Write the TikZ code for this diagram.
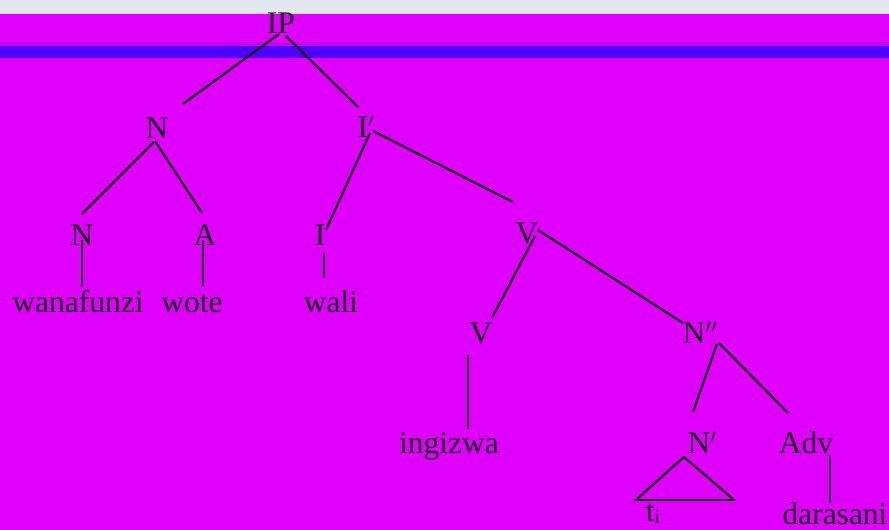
\documentclass[tikz,border=0pt]{standalone}
\usepackage{fontspec}
\setmainfont{Liberation Serif}
\definecolor{bgmag}{RGB}{222,0,250}
\definecolor{bgtop}{RGB}{226,230,238}
\definecolor{bgblue}{RGB}{78,0,255}
\definecolor{bgdark}{RGB}{200,0,235}
\definecolor{ink}{RGB}{25,20,30}
\begin{document}
\begin{tikzpicture}[x=1pt,y=-1pt,
  lab/.style={inner sep=0pt,anchor=base,text=ink,font=\fontsize{31.5}{34}\selectfont},
  branch/.style={draw=ink,line width=2.2pt}]
\useasboundingbox (0,0) rectangle (889,530);
\fill[bgmag] (0,0) rectangle (889,530);
\fill[bgtop] (0,0) rectangle (889,14);
\fill[bgdark] (0,42) rectangle (889,46);
\fill[bgblue] (0,46) rectangle (889,58);
% labels
\node[lab] (ip) at (281,33) {IP};
\node[lab] (n1) at (157,138) {N};
\node[lab] (ib) at (366,137) {I$'$};
\node[lab] (n2) at (82,245) {N};
\node[lab] (a) at (205,245) {A};
\node[lab] (i) at (320,245) {I};
\node[lab] (wan) at (78,312) {wanafunzi};
\node[lab] (wote) at (192,312) {wote};
\node[lab] (wali) at (331,312) {wali};
\node[lab] (v1) at (527,243) {V};
\node[lab] (v2) at (481,343) {V};
\node[lab] (npp) at (700,343) {N$''$};
\node[lab] (ing) at (449,453) {ingizwa};
\node[lab] (np) at (702,453) {N$'$};
\node[lab] (adv) at (806,453) {Adv};
\node[lab] (ti) at (653,521) {t\raisebox{-2pt}{\fontsize{20}{20}\selectfont i}};
\node[lab] (dar) at (835,524) {darasani};
% branch end points
\coordinate (c1a) at (279,34);  \coordinate (c1b) at (183,104);
\coordinate (c2a) at (286,36);  \coordinate (c2b) at (358,107);
\coordinate (c3a) at (154,142); \coordinate (c3b) at (82,214);
\coordinate (c4a) at (155,141); \coordinate (c4b) at (202,213);
\coordinate (c5a) at (82,240);  \coordinate (c5b) at (82,287);
\coordinate (c6a) at (203,240); \coordinate (c6b) at (203,286);
\coordinate (c7a) at (324,253); \coordinate (c7b) at (324,278);
\coordinate (c8a) at (370,133); \coordinate (c8b) at (326,230);
\coordinate (c9a) at (373,131); \coordinate (c9b) at (513,202);
\coordinate (c10a) at (535,236); \coordinate (c10b) at (492,318);
\coordinate (c11a) at (538,230); \coordinate (c11b) at (683,323);
\coordinate (c12a) at (468,355); \coordinate (c12b) at (468,429);
\coordinate (c13a) at (717,344); \coordinate (c13b) at (693,412);
\coordinate (c14a) at (719,343); \coordinate (c14b) at (788,413);
\coordinate (tapex) at (684,457); \coordinate (tl) at (637,499); \coordinate (tr) at (733,499);
\coordinate (bl) at (634,500); \coordinate (br) at (736,500);
\coordinate (c16a) at (830,455); \coordinate (c16b) at (830,503);
\draw[branch] (c1a) -- (c1b);
\draw[branch] (c2a) -- (c2b);
\draw[branch] (c3a) -- (c3b);
\draw[branch] (c4a) -- (c4b);
\draw[branch] (c5a) -- (c5b);
\draw[branch] (c6a) -- (c6b);
\draw[branch] (c7a) -- (c7b);
\draw[branch] (c8a) -- (c8b);
\draw[branch] (c9a) -- (c9b);
\draw[branch] (c10a) -- (c10b);
\draw[branch] (c11a) -- (c11b);
\draw[branch] (c12a) -- (c12b);
\draw[branch] (c13a) -- (c13b);
\draw[branch] (c14a) -- (c14b);
\draw[branch] (tl) -- (tapex) -- (tr);
\draw[branch] (bl) -- (br);
\draw[branch] (c16a) -- (c16b);
\end{tikzpicture}
\end{document}
